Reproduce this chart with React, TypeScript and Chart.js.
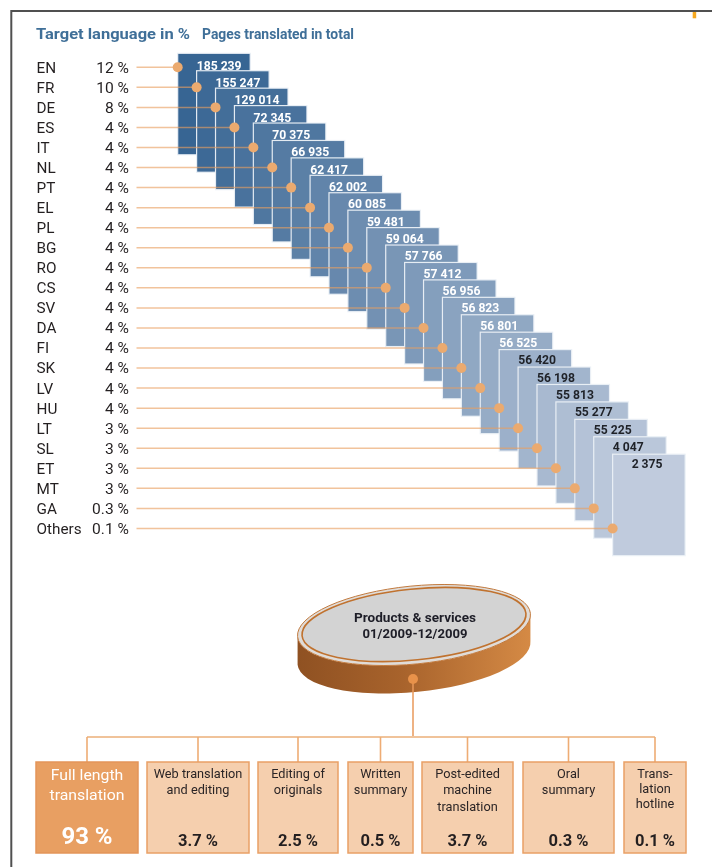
import React, { useEffect, useRef } from 'react';
import { Chart, registerables } from 'chart.js';

Chart.register(...registerables);

// ---------- data ----------
const titleLeft = 'Target language in %';
const titleRight = 'Pages translated in total';
const languages = ['EN', 'FR', 'DE', 'ES', 'IT', 'NL', 'PT', 'EL', 'PL', 'BG', 'RO', 'CS', 'SV', 'DA', 'FI', 'SK', 'LV', 'HU', 'LT', 'SL', 'ET', 'MT', 'GA', 'Others'];
const languageShares = [12, 10, 8, 4, 4, 4, 4, 4, 4, 4, 4, 4, 4, 4, 4, 4, 4, 4, 3, 3, 3, 3, 0.3, 0.1];
const pagesTranslated = [185239, 155247, 129014, 72345, 70375, 66935, 62417, 62002, 60085, 59481, 59064, 57766, 57412, 56956, 56823, 56801, 56525, 56420, 56198, 55813, 55277, 55225, 4047, 2375];
const hubTitle = ['Products & services', '01/2009-12/2009'];
const services = [
  ['Full length', 'translation'],
  ['Web translation', 'and editing'],
  ['Editing of', 'originals'],
  ['Written', 'summary'],
  ['Post-edited', 'machine', 'translation'],
  ['Oral', 'summary'],
  ['Trans-', 'lation', 'hotline'],
];
const serviceShares = [93, 3.7, 2.5, 0.5, 3.7, 0.3, 0.1];

// ---------- layout ----------
const CARD = { x0: 177.7, dx: 18.91, y0: 53.3, dy: 17.43, w: 72.5, h: 101.5 };
const ROW = { y0: 67.3, dy: 20.05 };
const LINE_START = 136.5;
const BOX_X = [[36, 138], [147, 249], [258, 338], [348, 413], [422, 513], [523, 614], [624, 686]];
const BOX_Y = [762, 853];
const DISK = { cx: 414, cy: 625, a: 117, b: 39, rot: -0.1, th: 28 };
const HUB_DOT = { x: 413, y: 679 };
const BAR_Y = 737;

const FONT = 'Roboto, "DejaVu Sans", sans-serif';

const fmtPages = (v: number) => String(v).replace(/\B(?=(\d{3})+(?!\d))/g, ' ');
const fmtPct = (v: number) => `${v} %`;

function txt(ctx: CanvasRenderingContext2D, s: string, x: number, y: number, font: string, color: string, align: CanvasTextAlign, sx = 1) {
  ctx.save();
  ctx.font = font;
  ctx.fillStyle = color;
  ctx.textBaseline = 'alphabetic';
  ctx.textAlign = align;
  ctx.translate(x, y);
  ctx.scale(sx, 1);
  ctx.fillText(s, 0, 0);
  ctx.restore();
}

// draw text squeezed/stretched to a target width
function fitTxt(ctx: CanvasRenderingContext2D, s: string, x: number, y: number, font: string, color: string, align: CanvasTextAlign, width: number) {
  ctx.save();
  ctx.font = font;
  const w = ctx.measureText(s).width || 1;
  ctx.restore();
  txt(ctx, s, x, y, font, color, align, width / w);
}

const mix = (c0: number[], c1: number[], t: number) =>
  `rgb(${c0.map((v, k) => Math.round(v + (c1[k] - v) * t)).join(',')})`;

const drawPlugin = {
  id: 'infographic',
  beforeDatasetsDraw(chart: any) {
    const { ctx } = chart;
    const sx = chart.scales.x;
    const sy = chart.scales.y;
    const px = (v: number) => sx.getPixelForValue(v);
    const py = (v: number) => sy.getPixelForValue(v);

    ctx.save();
    // frame
    ctx.strokeStyle = '#505050';
    ctx.lineWidth = 2;
    ctx.beginPath();
    ctx.moveTo(px(11.3), py(867));
    ctx.lineTo(px(11.3), py(11));
    ctx.lineTo(px(712), py(11));
    ctx.stroke();
    ctx.fillStyle = '#f6a81f';
    ctx.fillRect(px(692.7), py(12), 3.5, 6.3);

    // titles
    fitTxt(ctx, titleLeft, px(36), py(39.3), `bold 14.5px ${FONT}`, '#3f6f98', 'left', 154);
    fitTxt(ctx, titleRight, px(202), py(39.3), `bold 14px ${FONT}`, '#3f6f98', 'left', 152);

    // language labels
    languages.forEach((lang, i) => {
      const yy = py(ROW.y0 + i * ROW.dy + 5.4);
      txt(ctx, lang, px(36.5), yy, `15px ${FONT}`, '#231f20', 'left', 1.02);
      txt(ctx, fmtPct(languageShares[i]), px(129), yy, `15px ${FONT}`, '#231f20', 'right', 1.04);
    });

    // cards
    const c0 = [55, 101, 147];
    const c1 = [192, 203, 221];
    pagesTranslated.forEach((v, i) => {
      const t = i / (pagesTranslated.length - 1);
      const x0 = px(CARD.x0 + i * CARD.dx);
      const y0 = py(CARD.y0 + i * CARD.dy);
      const w = CARD.w;
      const h = CARD.h;
      ctx.fillStyle = mix(c0, c1, t);
      ctx.fillRect(x0, y0, w, h);
      ctx.strokeStyle = 'rgba(236,241,247,0.95)';
      ctx.lineWidth = 1.2;
      ctx.strokeRect(x0, y0, w, h);
      const light = i <= 16;
      txt(ctx, fmtPages(v), x0 + 19, py(CARD.y0 + i * CARD.dy + 16.4 - 0.1 * i), `bold 13.5px ${FONT}`, light ? '#ffffff' : '#1f2228', 'left', 0.9);
    });

    // connector lines
    ctx.strokeStyle = 'rgba(232,158,96,0.62)';
    ctx.lineWidth = 1.5;
    languages.forEach((_, i) => {
      const yy = py(ROW.y0 + i * ROW.dy);
      ctx.beginPath();
      ctx.moveTo(px(LINE_START), yy);
      ctx.lineTo(px(CARD.x0 + i * CARD.dx), yy);
      ctx.stroke();
    });

    // disk
    const { cx, cy, a, b, rot, th } = DISK;
    const dcx = px(cx);
    const dcy = py(cy);
    ctx.beginPath();
    ctx.ellipse(dcx, dcy, a, b, rot, 0, Math.PI);
    ctx.ellipse(dcx, dcy + th, a, b, rot, Math.PI, 0, true);
    ctx.closePath();
    const g = ctx.createLinearGradient(dcx - a, 0, dcx + a, 0);
    g.addColorStop(0, '#8f5122');
    g.addColorStop(0.45, '#a8632c');
    g.addColorStop(1, '#d58a45');
    ctx.fillStyle = g;
    ctx.fill();
    // top face
    ctx.beginPath();
    ctx.ellipse(dcx, dcy, a, b, rot, 0, Math.PI * 2);
    ctx.fillStyle = '#e0dcd8';
    ctx.fill();
    ctx.strokeStyle = '#c27a3e';
    ctx.lineWidth = 1;
    ctx.stroke();
    ctx.beginPath();
    ctx.ellipse(dcx, dcy - 0.5, a - 4.5, b - 3.5, rot, 0, Math.PI * 2);
    ctx.fillStyle = '#d3d3d3';
    ctx.fill();
    ctx.strokeStyle = '#c0722f';
    ctx.lineWidth = 1.6;
    ctx.stroke();
    fitTxt(ctx, hubTitle[0], dcx + 1, py(621.7), `bold 13px ${FONT}`, '#1d1d27', 'center', 122);
    fitTxt(ctx, hubTitle[1], dcx + 1, py(637.5), `bold 13px ${FONT}`, '#1d1d27', 'center', 105);

    // tree
    ctx.strokeStyle = '#e8995a';
    ctx.lineWidth = 1.5;
    ctx.beginPath();
    ctx.moveTo(px(HUB_DOT.x), py(HUB_DOT.y));
    ctx.lineTo(px(HUB_DOT.x), py(BAR_Y));
    ctx.stroke();
    const centers = BOX_X.map(([l, r]) => (l + r) / 2);
    ctx.strokeStyle = '#f0c39a';
    ctx.lineWidth = 2;
    ctx.beginPath();
    ctx.moveTo(px(centers[0]), py(BAR_Y));
    ctx.lineTo(px(centers[centers.length - 1]), py(BAR_Y));
    ctx.stroke();
    ctx.strokeStyle = '#eeac74';
    ctx.lineWidth = 1.6;
    centers.forEach((c) => {
      ctx.beginPath();
      ctx.moveTo(px(c), py(BAR_Y));
      ctx.lineTo(px(c), py(BOX_Y[0]));
      ctx.stroke();
    });

    // boxes
    services.forEach((lines, i) => {
      const [l, r] = BOX_X[i];
      const x0 = px(l);
      const y0 = py(BOX_Y[0]);
      const w = px(r) - x0;
      const h = py(BOX_Y[1]) - y0;
      const main = i === 0;
      ctx.fillStyle = main ? '#e89f62' : '#f5cfae';
      ctx.fillRect(x0, y0, w, h);
      ctx.strokeStyle = main ? '#e3955a' : '#e9a066';
      ctx.lineWidth = 1.5;
      ctx.strokeRect(x0, y0, w, h);
      const cxb = x0 + w / 2;
      if (main) {
        lines.forEach((s, k) => txt(ctx, s, cxb, py(780 + k * 19.5), `15.5px ${FONT}`, '#ffffff', 'center', 1.02));
        txt(ctx, fmtPct(serviceShares[i]), cxb, py(844), `bold 23.5px ${FONT}`, '#ffffff', 'center', 1.02);
      } else {
        const step = i === 6 ? 15 : 16.3;
        lines.forEach((s, k) => txt(ctx, s, cxb, py(778 + k * step), `13px ${FONT}`, '#2b2526', 'center', 0.98));
        txt(ctx, fmtPct(serviceShares[i]), cxb, py(846), `bold 16.5px ${FONT}`, '#231f20', 'center', 1.0);
      }
    });
    ctx.restore();
  },
};

export default function App() {
  const ref = useRef<HTMLCanvasElement>(null);
  useEffect(() => {
    document.body.style.margin = '0';
    document.body.style.overflow = 'hidden';
    const chart = new Chart(ref.current as HTMLCanvasElement, {
      type: 'scatter',
      data: {
        datasets: [
          {
            data: languages.map((_, i) => ({ x: CARD.x0 + i * CARD.dx, y: ROW.y0 + i * ROW.dy })),
            backgroundColor: '#ebaa6f',
            borderWidth: 0,
            pointRadius: 5,
            clip: false as any,
          },
          {
            data: [HUB_DOT],
            backgroundColor: '#e8924a',
            borderWidth: 0,
            pointRadius: 5,
            clip: false as any,
          },
        ],
      },
      options: {
        animation: false,
        responsive: false,
        devicePixelRatio: 1,
        layout: { padding: 0, autoPadding: false } as any,
        events: [],
        plugins: { legend: { display: false }, tooltip: { enabled: false } },
        scales: {
          x: { type: 'linear', min: 0, max: 712, display: false },
          y: { type: 'linear', min: 0, max: 867, reverse: true, display: false },
        },
      },
      plugins: [drawPlugin],
    });
    return () => chart.destroy();
  }, []);
  return <canvas ref={ref} width={712} height={867} style={{ display: 'block' }} />;
}
